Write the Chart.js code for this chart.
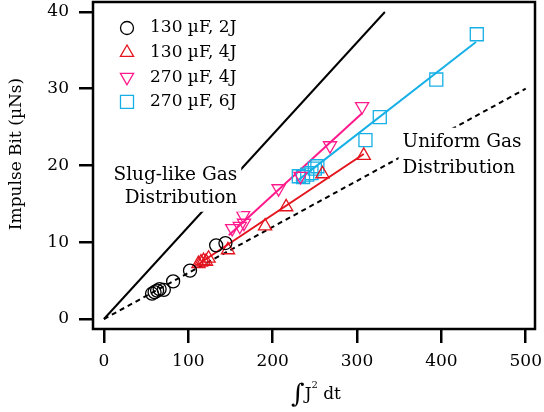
<!DOCTYPE html>
<html>
<head>
<meta charset="utf-8">
<script src="https://cdn.jsdelivr.net/npm/chart.js@4.4.1/dist/chart.umd.min.js"></script>
<style>
  html, body { margin: 0; padding: 0; background: #fff; }
  #wrap { width: 544px; height: 412px; }
</style>
</head>
<body>
<div id="wrap"><canvas id="chart" width="544" height="412"></canvas></div>
<script>
"use strict";

// Tick labels
const xTicks = [0, 100, 200, 300, 400, 500];
const yTicks = [0, 10, 20, 30, 40];

// 130 uF, 2J (circles)
const c2jX = [57, 60, 63, 66, 71, 82, 102, 133, 144];
const c2jY = [3.3, 3.5, 3.7, 3.9, 3.8, 4.9, 6.3, 9.6, 9.9];

// 130 uF, 4J (triangles)
const c4jX = [112, 115, 118, 121, 124, 147, 191, 216, 259, 308];
const c4jY = [7.2, 7.4, 7.6, 7.5, 7.9, 9.0, 12.1, 14.6, 18.9, 21.3];

// 270 uF, 4J (inverted triangles)
const b4jX = [152, 161, 166, 165, 207, 233, 268, 306];
const b4jY = [11.8, 12.1, 12.5, 13.5, 17.0, 18.6, 22.6, 27.7];

// 270 uF, 6J (squares)
const b6jX = [231, 236, 241, 246, 250, 253, 310, 327, 394, 442];
const b6jY = [18.6, 18.5, 18.8, 19.0, 19.6, 19.9, 23.3, 26.3, 31.2, 37.1];

// fit lines and limit lines (end points)
const fit4jX = [110, 308];   const fit4jY = [7.0, 21.5];
const fitB4jX = [148, 306];  const fitB4jY = [10.9, 26.8];
const fitB6jX = [228, 441];  const fitB6jY = [17.9, 36.1];
const slugX = [0, 333];      const slugY = [0, 40];
const uniformX = [0, 500];   const uniformY = [0, 30];

const seriesNames = ["130 \u00b5F, 2J", "130 \u00b5F, 4J", "270 \u00b5F, 4J", "270 \u00b5F, 6J"];
const slugNote = ["Slug-like Gas", "Distribution"];
const uniformNote = ["Uniform Gas", "Distribution"];

const RED = '#e4141e';
const PINK = '#ff1a8c';
const BLUE = '#17b0e6';
const SERIF = '"DejaVu Serif", serif';

const pts = (xs, ys) => xs.map((x, i) => ({ x: x, y: ys[i] }));

const markers = [
    { pointStyle: 'circle', radius: 6.5, rotation: 0, color: '#000' },
    { pointStyle: 'triangle', radius: 7.6, rotation: 0, color: RED },
    { pointStyle: 'triangle', radius: 7.6, rotation: 180, color: PINK },
    { pointStyle: 'rect', radius: 9.2, rotation: 0, color: BLUE }
];

function lineSet(data, color, dash) {
    return {
        type: 'line',
        data: data,
        borderColor: color,
        borderWidth: 2,
        borderDash: dash || [],
        pointRadius: 0,
        fill: false,
        order: 2
    };
}

function pointSet(data, m) {
    return {
        type: 'scatter',
        data: data,
        showLine: false,
        pointStyle: m.pointStyle,
        pointRadius: m.radius,
        pointRotation: m.rotation,
        pointBorderColor: m.color,
        pointBackgroundColor: 'rgba(0,0,0,0)',
        pointBorderWidth: 1.3,
        order: 1
    };
}

// white-boxed notes, legend, frame and axis titles
const decor = {
    id: 'decor',
    afterDatasetsDraw(chart) {
        const { ctx, chartArea: a, scales } = chart;
        const xs = scales.x, ys = scales.y;
        ctx.save();

        ctx.font = '18.5px ' + SERIF;
        ctx.textBaseline = 'middle';
        const note = (lines, xVal, yVals, align) => {
            const px = xs.getPixelForValue(xVal);
            lines.forEach((t, i) => {
                const py = ys.getPixelForValue(yVals[i]);
                const w = ctx.measureText(t).width;
                const left = align === 'right' ? px - w : px;
                ctx.fillStyle = '#fff';
                ctx.fillRect(left - 4, py - 14, w + 8, 28);
            });
            ctx.fillStyle = '#000';
            ctx.textAlign = align;
            lines.forEach((t, i) => ctx.fillText(t, px, ys.getPixelForValue(yVals[i])));
        };
        note(slugNote, 158, [18.8, 15.8], 'right');
        note(uniformNote, 354, [23.1, 19.6], 'left');

        // legend
        ctx.font = '17px ' + SERIF;
        ctx.textAlign = 'left';
        seriesNames.forEach((name, i) => {
            const m = markers[i];
            const y = a.top + 26 + i * 24.6;
            ctx.strokeStyle = m.color;
            ctx.fillStyle = 'rgba(0,0,0,0)';
            ctx.lineWidth = 1.3;
            Chart.helpers.drawPoint(ctx, {
                pointStyle: m.pointStyle, radius: m.radius,
                rotation: m.rotation, borderWidth: 1.3
            }, a.left + 34, y);
            ctx.fillStyle = '#000';
            ctx.fillText(name, a.left + 57, y);
        });

        // frame
        ctx.strokeStyle = '#000';
        ctx.lineWidth = 2.5;
        ctx.strokeRect(a.left, a.top, a.right - a.left, a.bottom - a.top);

        // y title
        ctx.save();
        ctx.translate(17, 154);
        ctx.rotate(-Math.PI / 2);
        ctx.textAlign = 'center';
        ctx.fillStyle = '#000';
        ctx.font = '17px ' + SERIF;
        ctx.fillText('Impulse Bit (\u00b5Ns)', 0, 0);
        ctx.restore();

        // x title: integral J^2 dt
        ctx.textBaseline = 'alphabetic';
        ctx.textAlign = 'left';
        ctx.fillStyle = '#000';
        const base = 399;
        ctx.font = '26px ' + SERIF;
        const wInt = ctx.measureText('\u222b').width;
        ctx.font = '17px ' + SERIF;
        const wJ = ctx.measureText('J').width;
        const wDt = ctx.measureText(' dt').width;
        ctx.font = '10px ' + SERIF;
        const wSup = ctx.measureText('2').width;
        let x0 = 316 - (wInt + wJ + wSup + wDt) / 2;
        ctx.font = '26px ' + SERIF;
        ctx.fillText('\u222b', x0, base + 3);
        x0 += wInt;
        ctx.font = '17px ' + SERIF;
        ctx.fillText('J', x0, base);
        x0 += wJ;
        ctx.font = '10px ' + SERIF;
        ctx.fillText('2', x0, base - 11);
        x0 += wSup;
        ctx.font = '17px ' + SERIF;
        ctx.fillText(' dt', x0, base);

        ctx.restore();
    }
};

const tickGrid = {
    display: true,
    drawOnChartArea: false,
    drawTicks: true,
    tickLength: 14,
    lineWidth: 2.5,
    color: '#000'
};

new Chart(document.getElementById('chart').getContext('2d'), {
    data: {
        datasets: [
            lineSet(pts(slugX, slugY), '#000'),
            lineSet(pts(uniformX, uniformY), '#000', [5, 4]),
            lineSet(pts(fit4jX, fit4jY), RED),
            lineSet(pts(fitB4jX, fitB4jY), PINK),
            lineSet(pts(fitB6jX, fitB6jY), BLUE),
            pointSet(pts(c2jX, c2jY), markers[0]),
            pointSet(pts(c4jX, c4jY), markers[1]),
            pointSet(pts(b4jX, b4jY), markers[2]),
            pointSet(pts(b6jX, b6jY), markers[3])
        ]
    },
    options: {
        responsive: false,
        animation: false,
        layout: { autoPadding: false, padding: { top: 2, right: 9, left: 0, bottom: 0 } },
        plugins: { legend: { display: false }, tooltip: { enabled: false } },
        scales: {
            x: {
                type: 'linear',
                min: -13,
                max: 511,
                afterBuildTicks: (s) => { s.ticks = xTicks.map(v => ({ value: v })); },
                afterFit: (s) => { s.height = 83; s.paddingLeft = 0; s.paddingRight = 0; },
                grid: tickGrid,
                border: { display: false },
                ticks: { color: '#000', padding: 8, maxRotation: 0, font: { family: SERIF, size: 17 } }
            },
            y: {
                type: 'linear',
                min: -1.3,
                max: 41.3,
                afterBuildTicks: (s) => { s.ticks = yTicks.map(v => ({ value: v })); },
                afterFit: (s) => { s.width = 93; s.paddingTop = 0; s.paddingBottom = 0; },
                grid: tickGrid,
                border: { display: false },
                ticks: { color: '#000', padding: 10, font: { family: SERIF, size: 17, lineHeight: 0.2 } }
            }
        }
    },
    plugins: [decor]
});
</script>
</body>
</html>
